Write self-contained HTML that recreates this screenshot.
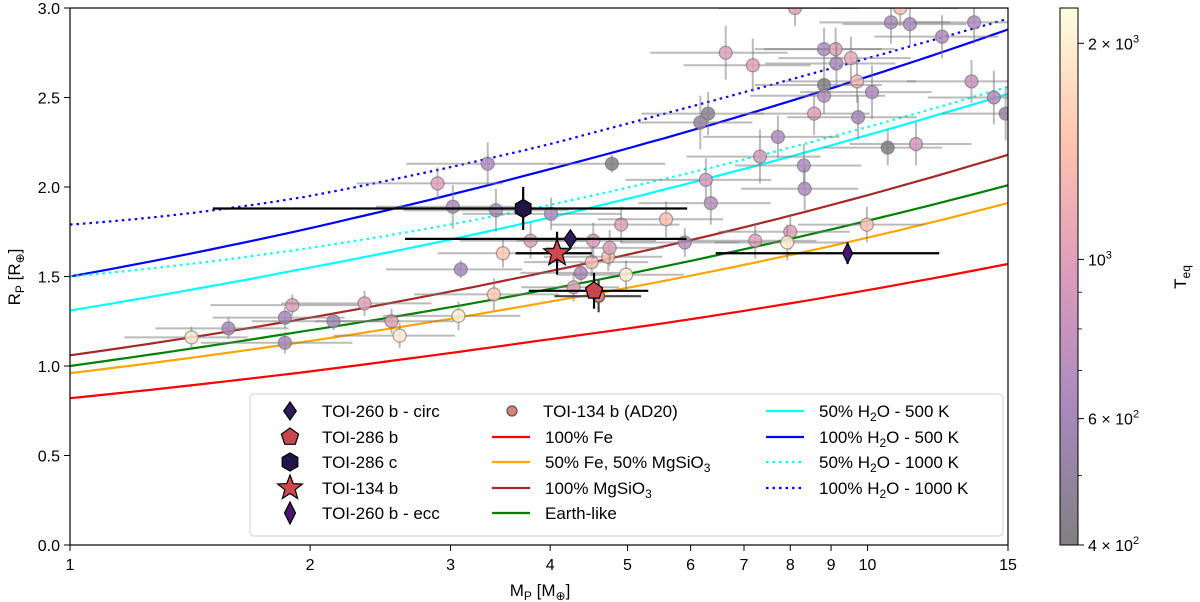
<!DOCTYPE html>
<html><head><meta charset="utf-8">
<style>
body{margin:0;background:#fff;}
svg{display:block;font-family:"Liberation Sans","DejaVu Sans",sans-serif;}
</style></head>
<body>
<svg id="chart" width="1200" height="602" viewBox="0 0 1200 602">
<defs>
<linearGradient id="cmap" x1="0" y1="1" x2="0" y2="0">
<stop offset="0" stop-color="#808080"/>
<stop offset="0.25" stop-color="#a889be"/>
<stop offset="0.5" stop-color="#db9bbc"/>
<stop offset="0.75" stop-color="#fec4b0"/>
<stop offset="1" stop-color="#fefedf"/>
</linearGradient>
<clipPath id="plotclip"><rect x="70" y="8" width="938" height="537"/></clipPath>
</defs>
<g id="models" clip-path="url(#plotclip)"></g>
<g id="scatter" clip-path="url(#plotclip)"></g>
<g id="hl"></g>
<rect x="70" y="8" width="938" height="537" fill="none" stroke="#000" stroke-width="1.2"/>
<g id="axes"></g>
<text x="540" y="596" font-size="17" text-anchor="middle">M<tspan font-size="12" dy="4">P</tspan><tspan dy="-4"> [M</tspan><tspan font-size="12" dy="4">⊕</tspan><tspan dy="-4">]</tspan></text>
<text transform="translate(20,277) rotate(-90)" font-size="17" text-anchor="middle">R<tspan font-size="12" dy="4">P</tspan><tspan dy="-4"> [R</tspan><tspan font-size="12" dy="4">⊕</tspan><tspan dy="-4">]</tspan></text>
<rect x="1060" y="8" width="18" height="537" fill="url(#cmap)" stroke="#000" stroke-width="1"/>
<g id="cbar"></g>
<text transform="translate(1186,277) rotate(-90)" font-size="17" text-anchor="middle">T<tspan font-size="12" dy="4">eq</tspan></text>
<g id="legend"></g>
</svg>
<script>
// ---- data ----
const modelNames = ["100% Fe","50% Fe, 50% MgSiO3","100% MgSiO3","Earth-like","50% H2O - 500 K","100% H2O - 500 K","50% H2O - 1000 K","100% H2O - 1000 K"];
const modelMass = [1,2,4,8,15];
const rFe = [0.82,0.97,1.15,1.35,1.57];
const rFeMg = [0.96,1.14,1.36,1.62,1.91];
const rMg = [1.06,1.27,1.53,1.84,2.18];
const rEarth = [1.00,1.20,1.43,1.71,2.01];
const rW50_500 = [1.31,1.55,1.83,2.17,2.52];
const rW100_500 = [1.50,1.77,2.10,2.48,2.88];
const rW50_1000 = [1.50,1.66,1.90,2.22,2.56];
const rW100_1000 = [1.79,1.95,2.24,2.60,2.94];

const ptMass = [1.42,1.58,1.86,1.90,1.86,2.14,2.34,2.53,2.59,3.07,3.40,3.09,3.49,4.28,4.37,4.51,4.73,4.75,4.98,3.78,4.53,5.90,4.91,5.59,3.02,3.42,4.01,2.89,3.34,4.78,6.17,6.31,6.64,7.18,7.72,7.33,8.32,8.34,6.27,6.36,8.57,8.82,9.12,9.14,9.53,9.70,8.82,8.82,10.13,9.73,10.6,11.5,13.5,14.4,14.9,10.7,11.3,13.6,12.4,8.11,10.99,9.98,8.00,7.23,7.93];
const ptRad = [1.16,1.21,1.27,1.34,1.13,1.25,1.35,1.25,1.17,1.28,1.40,1.54,1.63,1.44,1.52,1.58,1.61,1.66,1.51,1.70,1.70,1.69,1.79,1.82,1.89,1.87,1.85,2.02,2.13,2.13,2.36,2.41,2.75,2.68,2.28,2.17,2.12,1.99,2.04,1.91,2.41,2.77,2.77,2.69,2.72,2.59,2.57,2.51,2.53,2.39,2.22,2.24,2.59,2.50,2.41,2.92,2.91,2.92,2.84,3.00,3.00,1.79,1.75,1.70,1.69];
const ptTeq = [1900,600,600,1000,600,600,1000,1000,2000,2000,1500,600,1500,1000,650,1300,1400,1000,2000,1000,900,700,1000,1400,650,650,650,1000,650,400,500,450,1000,1000,650,900,650,650,900,700,1000,650,1000,650,1100,1300,420,700,650,600,400,900,800,650,500,650,650,650,650,1000,1400,1400,1000,1000,2000];
const ptMassErr = [0.25,0.3,0.35,0.4,0.4,0.45,0.5,0.5,0.45,0.6,0.7,0.6,0.6,0.6,0.7,0.8,0.8,0.8,0.9,0.7,0.9,1.0,0.9,1.0,0.6,0.8,0.9,0.6,0.7,0.8,1.0,1.1,1.3,1.3,1.5,1.4,1.5,1.4,1.3,1.2,1.5,1.6,1.7,1.7,1.8,1.8,1.6,1.7,1.9,1.8,1.8,2.0,2.3,2.5,2.5,2.0,2.0,2.2,2.2,1.6,2.0,1.8,1.5,1.4,1.5];
const ptRadErr = [0.06,0.06,0.06,0.06,0.06,0.05,0.07,0.07,0.07,0.08,0.09,0.05,0.08,0.08,0.06,0.08,0.08,0.1,0.08,0.1,0.1,0.08,0.1,0.1,0.12,0.12,0.09,0.09,0.12,0.05,0.15,0.12,0.15,0.15,0.12,0.15,0.12,0.12,0.12,0.12,0.12,0.12,0.12,0.12,0.12,0.12,0.1,0.1,0.15,0.12,0.1,0.12,0.12,0.15,0.15,0.12,0.12,0.12,0.12,0.1,0.1,0.1,0.1,0.1,0.1];

const hlNames = ["TOI-286 c","TOI-260 b - circ","TOI-134 b","TOI-286 b","TOI-134 b (AD20)","TOI-260 b - ecc"];
const hlMass = [3.70,4.24,4.08,4.54,4.60,9.44];
const hlMassLo = [1.51,2.63,3.62,3.76,4.05,6.45];
const hlMassHi = [5.94,5.93,4.51,5.31,5.20,12.3];
const hlRad = [1.88,1.71,1.63,1.42,1.39,1.63];
const hlRadErr = [0.12,0.05,0.12,0.10,0.09,0.06];

const xTicks = [1,2,3,4,5,6,7,8,9,10,15];
const yTicks = [0,0.5,1.0,1.5,2.0,2.5,3.0];

// ---- scales ----
const X0=70, X1=1008, Y0=545, Y1=8;
const xs = m => X0 + Math.log10(m)/Math.log10(15)*(X1-X0);
const ys = r => Y0 - r/3*(Y0-Y1);
const TMIN=400, TMAX=2240;
const ts = t => 545 - (Math.log10(t)-Math.log10(TMIN))/(Math.log10(TMAX)-Math.log10(TMIN))*537;
const stops=[[0,[128,128,128]],[0.25,[168,137,190]],[0.5,[219,155,188]],[0.75,[254,196,176]],[1,[254,254,223]]];
function tcol(t){let f=(Math.log10(t)-Math.log10(TMIN))/(Math.log10(TMAX)-Math.log10(TMIN));f=Math.max(0,Math.min(1,f));
 for(let i=1;i<stops.length;i++){if(f<=stops[i][0]){const a=stops[i-1],b=stops[i],u=(f-a[0])/(b[0]-a[0]);
 return 'rgb('+a[1].map((v,k)=>Math.round(v+(b[1][k]-v)*u)).join(',')+')';}} return 'rgb(254,254,223)';}
const NS='http://www.w3.org/2000/svg';
function mk(tag,attrs,parent){const e=document.createElementNS(NS,tag);for(const k in attrs)e.setAttribute(k,attrs[k]);parent.appendChild(e);return e;}

// ---- models ----
const mg=document.getElementById('models');
const modelSeries=[rFe,rFeMg,rMg,rEarth,rW50_500,rW100_500,rW50_1000,rW100_1000];
const modelColors=['#ff0000','#ffa500','#a52a2a','#008000','#00ffff','#0000ff','#00ffff','#0000ff'];
const modelDash=['','','','','','','2.5,4','2.5,4'];
function interp(arr,m){const lm=Math.log10(m);for(let i=1;i<modelMass.length;i++){const b=Math.log10(modelMass[i]);
 if(lm<=b+1e-9){
 const j=Math.min(Math.max(i-1,0),modelMass.length-3);
 const x0=Math.log10(modelMass[j]),x1=Math.log10(modelMass[j+1]),x2=Math.log10(modelMass[j+2]);
 const y0=arr[j],y1=arr[j+1],y2=arr[j+2];
 return y0*(lm-x1)*(lm-x2)/((x0-x1)*(x0-x2))+y1*(lm-x0)*(lm-x2)/((x1-x0)*(x1-x2))+y2*(lm-x0)*(lm-x1)/((x2-x0)*(x2-x1));}}
 return arr[arr.length-1];}
modelSeries.forEach((arr,i)=>{let d='';for(let k=0;k<=60;k++){const m=Math.pow(15,k/60);d+=(k?'L':'M')+xs(m).toFixed(1)+','+ys(interp(arr,m)).toFixed(1);}
 const p=mk('path',{d:d,fill:'none',stroke:modelColors[i],'stroke-width':2.2},mg);
 if(modelDash[i])p.setAttribute('stroke-dasharray',modelDash[i]);
 
 });

// ---- scatter ----
const sg=document.getElementById('scatter');
ptMass.forEach((m,i)=>{const g=mk('g',{},sg);
 
 
 const x=xs(m),y=ys(ptRad[i]);
 mk('line',{x1:xs(Math.max(0.5,m-ptMassErr[i])),x2:xs(m+ptMassErr[i]),y1:y,y2:y,stroke:'rgba(120,120,120,0.5)','stroke-width':2},g);
 mk('line',{x1:x,x2:x,y1:ys(ptRad[i]-ptRadErr[i]),y2:ys(ptRad[i]+ptRadErr[i]),stroke:'rgba(120,120,120,0.5)','stroke-width':2},g);
 mk('circle',{cx:x,cy:y,r:6.5,fill:tcol(ptTeq[i]),'fill-opacity':0.85,stroke:'rgba(110,110,110,0.6)','stroke-width':1.3},g);});

// ---- highlighted ----
const hg=document.getElementById('hl');
const hlFill=['#231447','#2d1b5a','#d0484f','#c8474f','#d9807f','#4a1570'];
function shape(kind,x,y,fill,parent,s){
 if(kind==='hex'){let p=[];for(let k=0;k<6;k++){const a=Math.PI/6+k*Math.PI/3;p.push((x+s*Math.cos(a)).toFixed(1)+','+(y+s*Math.sin(a)).toFixed(1));}return mk('polygon',{points:p.join(' '),fill:fill,stroke:'#000','stroke-width':1.2},parent);}
 if(kind==='dia')return mk('polygon',{points:`${x},${y-s} ${x+s*0.7},${y} ${x},${y+s} ${x-s*0.7},${y}`,fill:fill,stroke:'#000','stroke-width':1.2},parent);
 if(kind==='thin')return mk('polygon',{points:`${x},${y-s} ${x+s*0.5},${y} ${x},${y+s} ${x-s*0.5},${y}`,fill:fill,stroke:'#000','stroke-width':1.2},parent);
 if(kind==='pent'){let p=[];for(let k=0;k<5;k++){const a=-Math.PI/2+k*2*Math.PI/5;p.push((x+s*Math.cos(a)).toFixed(1)+','+(y+s*Math.sin(a)).toFixed(1));}return mk('polygon',{points:p.join(' '),fill:fill,stroke:'#000','stroke-width':1.2},parent);}
 if(kind==='star'){let p=[];for(let k=0;k<10;k++){const a=-Math.PI/2+k*Math.PI/5,r=k%2?s*0.42:s;p.push((x+r*Math.cos(a)).toFixed(1)+','+(y+r*Math.sin(a)).toFixed(1));}return mk('polygon',{points:p.join(' '),fill:fill,stroke:'#000','stroke-width':1.2},parent);}
 return mk('circle',{cx:x,cy:y,r:s,fill:fill,stroke:'#555','stroke-width':1.2},parent);}
const hlKind=['hex','dia','star','pent','circ','thin'];
const hlSize=[9,9,14,9,6,10];
const hlOrder=[4,0,1,2,3,5];
hlOrder.forEach(i=>{const g=mk('g',{},hg);
 
 
 const x=xs(hlMass[i]),y=ys(hlRad[i]);const ec=i===4?'#444':'#000';
 mk('line',{x1:xs(hlMassLo[i]),x2:xs(hlMassHi[i]),y1:y,y2:y,stroke:ec,'stroke-width':2.2},g);
 mk('line',{x1:x,x2:x,y1:ys(hlRad[i]-hlRadErr[i]),y2:ys(hlRad[i]+hlRadErr[i]),stroke:ec,'stroke-width':2.2},g);
 shape(hlKind[i],x,y,hlFill[i],g,hlSize[i]);});

// ---- axes ----
const ag=document.getElementById('axes');
xTicks.forEach(v=>{const x=xs(v);mk('line',{x1:x,x2:x,y1:545,y2:551,stroke:'#000','stroke-width':1},ag);
 const t=mk('text',{x:x,y:570,'font-size':16,'text-anchor':'middle'},ag);t.textContent=String(v);
 
 });
yTicks.forEach(v=>{const y=ys(v);mk('line',{x1:64,x2:70,y1:y,y2:y,stroke:'#000','stroke-width':1},ag);
 const t=mk('text',{x:60,y:y+6,'font-size':16,'text-anchor':'end'},ag);t.textContent=v.toFixed(1);
 
 });

// ---- colorbar ticks ----
const cg=document.getElementById('cbar');
[500,700,800,900].forEach(t=>{mk('line',{x1:1078,x2:1082,y1:ts(t),y2:ts(t),stroke:'#000','stroke-width':0.8},cg);});
[[400,'4 × 10','2'],[600,'6 × 10','2'],[1000,'10','3'],[2000,'2 × 10','3']].forEach(d=>{const y=ts(d[0]);
 mk('line',{x1:1078,x2:1084,y1:y,y2:y,stroke:'#000','stroke-width':1},cg);
 const t=mk('text',{x:1088,y:y+6,'font-size':16},cg);t.textContent=d[1];
 const s=mk('tspan',{'font-size':11,dy:-7},t);s.textContent=d[2];
 
 });

// ---- legend ----
const lg=document.getElementById('legend');
mk('rect',{x:250,y:394,width:753,height:142,rx:4,fill:'rgba(255,255,255,0.85)',stroke:'#d0d0d0','stroke-width':1},lg);
const rowY=[411,437,462,488,513];
const col1=[['dia',1,'TOI-260 b - circ'],['pent',3,'TOI-286 b'],['hex',0,'TOI-286 c'],['star',2,'TOI-134 b'],['thin',5,'TOI-260 b - ecc']];
col1.forEach((c,k)=>{const g=mk('g',{},lg);
 
 
 shape(c[0],290,rowY[k],hlFill[c[1]],g,c[0]==='star'?13:(c[0]==='thin'?11:9));
 const t=mk('text',{x:322,y:rowY[k]+6,'font-size':17},g);t.textContent=c[2];});
function addLineEntry(x,y,color,dash,html){const g=mk('g',{},lg);
 
 
 const l=mk('line',{x1:x,x2:x+38,y1:y,y2:y,stroke:color,'stroke-width':2.2},g);if(dash)l.setAttribute('stroke-dasharray',dash);
 const t=mk('text',{x:x+53,y:y+6,'font-size':17},g);t.innerHTML=html;}
{const g=mk('g',{},lg);
 
 
 mk('circle',{cx:512,cy:rowY[0],r:5,fill:'#d9807f',stroke:'#555','stroke-width':1.2},g);
 const t=mk('text',{x:543,y:rowY[0]+6,'font-size':17},g);t.textContent='TOI-134 b (AD20)';}
addLineEntry(492,rowY[1],'#ff0000','','100% Fe');
addLineEntry(492,rowY[2],'#ffa500','','50% Fe, 50% MgSiO<tspan font-size="12" dy="4">3</tspan>');
addLineEntry(492,rowY[3],'#a52a2a','','100% MgSiO<tspan font-size="12" dy="4">3</tspan>');
addLineEntry(492,rowY[4],'#008000','','Earth-like');
addLineEntry(766,rowY[0],'#00ffff','','50% H<tspan font-size="12" dy="4">2</tspan><tspan dy="-4">O - 500 K</tspan>');
addLineEntry(766,rowY[1],'#0000ff','','100% H<tspan font-size="12" dy="4">2</tspan><tspan dy="-4">O - 500 K</tspan>');
addLineEntry(766,rowY[2],'#00ffff','2.5,4','50% H<tspan font-size="12" dy="4">2</tspan><tspan dy="-4">O - 1000 K</tspan>');
addLineEntry(766,rowY[3],'#0000ff','2.5,4','100% H<tspan font-size="12" dy="4">2</tspan><tspan dy="-4">O - 1000 K</tspan>');
</script>
</body></html>
